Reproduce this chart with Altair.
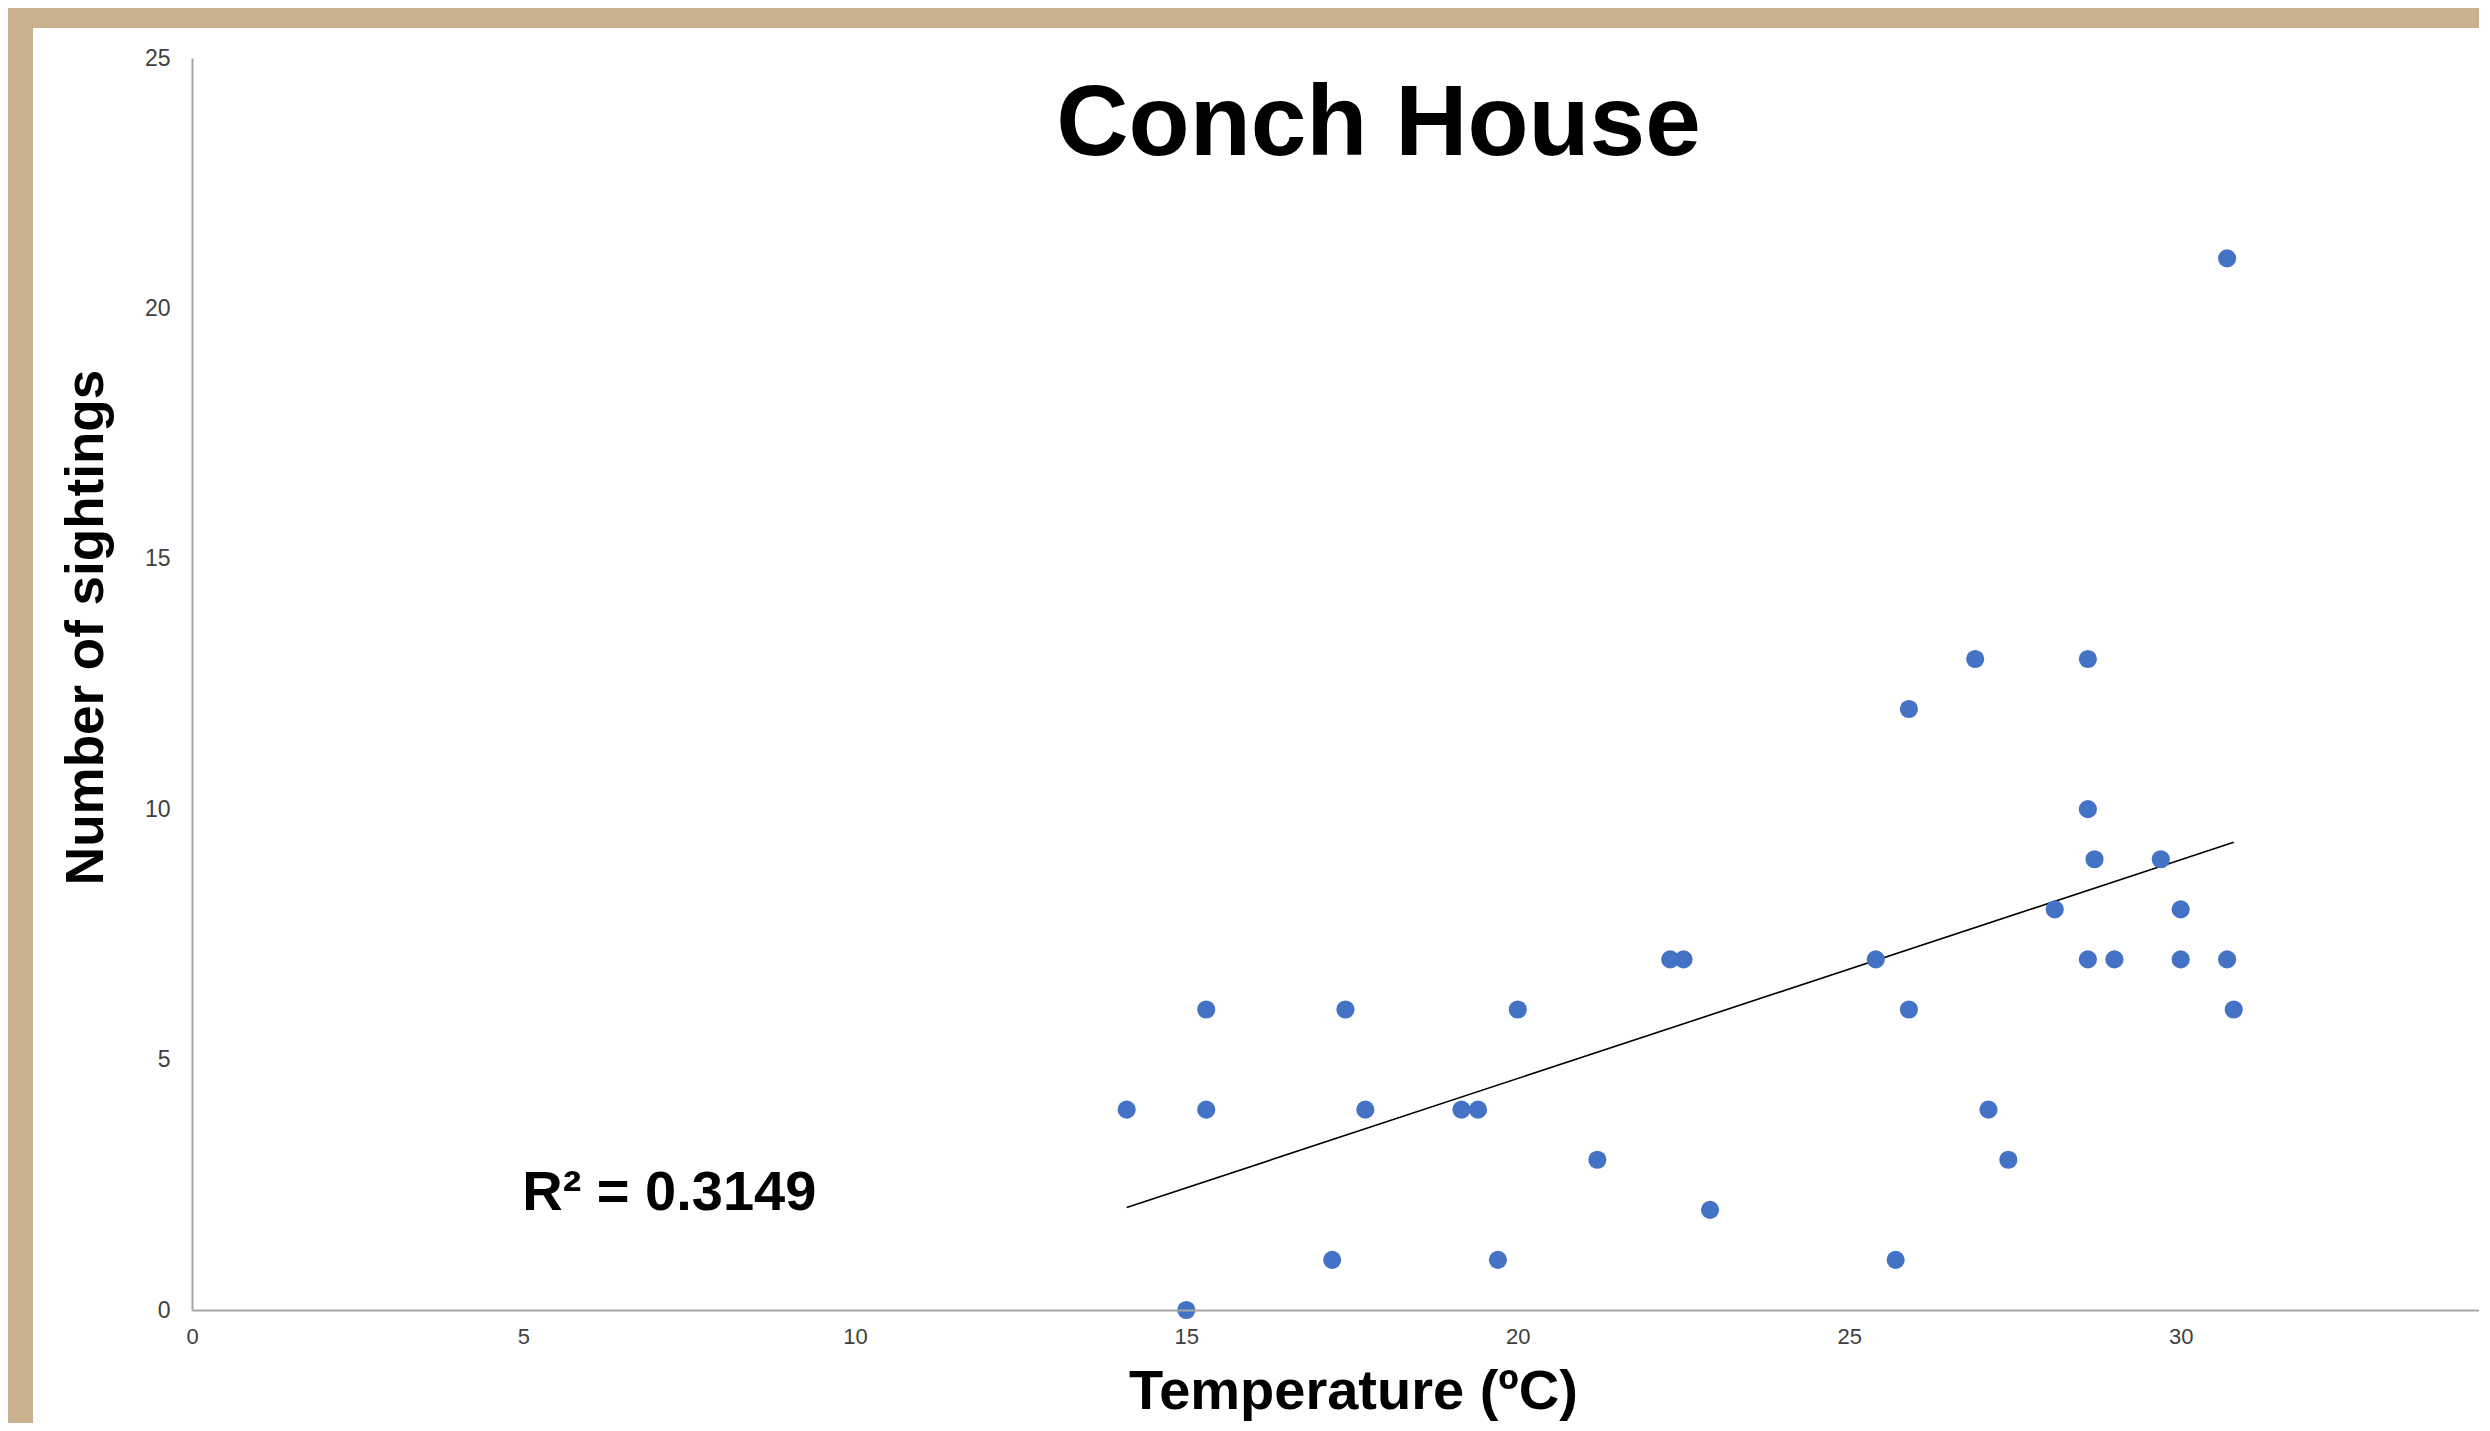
import altair as alt
import pandas as pd

# ---- data ----
temps = [14.1, 15.0, 15.3, 15.3, 17.2, 17.4, 17.7, 19.15, 19.4, 19.7, 20.0, 21.2,
         22.3, 22.5, 22.9, 25.4, 25.7, 25.9, 25.9, 26.9, 27.1, 27.4, 28.1, 28.6,
         28.6, 28.6, 28.7, 29.0, 29.7, 30.0, 30.0, 30.7, 30.7, 30.8]
sightings = [4, 0, 6, 4, 1, 6, 4, 4, 4, 1, 6, 3,
             7, 7, 2, 7, 1, 12, 6, 13, 4, 3, 8, 13,
             10, 7, 9, 7, 9, 8, 7, 21, 7, 6]
x_ticks = [0, 5, 10, 15, 20, 25, 30]
y_ticks = [0, 5, 10, 15, 20, 25]

title_text = ["Conch House"]
title_pos = [17.9, 23.07]
r2_text = ["R² = 0.3149"]
r2_pos = [7.2, 2.0]

df = pd.DataFrame({"temp": temps, "n": sightings})

W, H = 2287, 1252
TAN = "#C9B18F"
BLUE = "#4472C4"

xscale = alt.Scale(domain=[0, 34.5], nice=False, zero=False)
yscale = alt.Scale(domain=[0, 25], nice=False)

xaxis = alt.Axis(values=x_ticks, format="d", title="Temperature (ºC)", grid=False, ticks=False,
                 labelFontSize=22, labelColor="#404040", labelPadding=16, labelFlush=False,
                 labelFont="Liberation Sans", domainColor="#A6A6A6", domainWidth=2,
                 titleFont="Liberation Sans", titleFontSize=56, titleFontWeight="bold",
                 titleColor="#000000", titleX=1161, titleY=98, titleAlign="center",
                 titleBaseline="alphabetic", zindex=1)
yaxis = alt.Axis(values=y_ticks, format="d", title="Number of sightings", grid=False, ticks=False,
                 labelFontSize=23, labelColor="#404040", labelPadding=22, labelFlush=False,
                 labelFont="Liberation Sans", domainColor="#A6A6A6", domainWidth=2,
                 titleFont="Liberation Sans", titleFontSize=53, titleFontWeight="bold",
                 titleColor="#000000", titleX=-90, titleY=569, titleAngle=270,
                 titleAlign="center", titleBaseline="alphabetic", zindex=1)

panel = alt.Chart(pd.DataFrame({"a": [0]})).mark_rect(color="white").encode(
    x=alt.value(-159), x2=alt.value(W + 50), y=alt.value(-30), y2=alt.value(H + 200)
)

base = alt.Chart(df)

points = base.mark_circle(size=330, color=BLUE, opacity=1).encode(
    x=alt.X("temp:Q", scale=xscale, axis=xaxis),
    y=alt.Y("n:Q", scale=yscale, axis=yaxis),
)

trend = base.transform_regression("temp", "n").mark_line(
    color="#000000", strokeWidth=1.6
).encode(
    x=alt.X("temp:Q", scale=xscale),
    y=alt.Y("n:Q", scale=yscale),
)

title_df = pd.DataFrame({"t": title_text, "x": [title_pos[0]], "y": [title_pos[1]]})
title = alt.Chart(title_df).mark_text(
    font="Liberation Sans", fontSize=100, fontWeight="bold", color="#000000",
    align="center", baseline="alphabetic"
).encode(x=alt.X("x:Q", scale=xscale), y=alt.Y("y:Q", scale=yscale), text="t:N")

r2_df = pd.DataFrame({"t": r2_text, "x": [r2_pos[0]], "y": [r2_pos[1]]})
r2 = alt.Chart(r2_df).mark_text(
    font="Liberation Sans", fontSize=56, fontWeight="bold", color="#000000",
    align="center", baseline="alphabetic"
).encode(x=alt.X("x:Q", scale=xscale), y=alt.Y("y:Q", scale=yscale), text="t:N")

chart = alt.layer(panel, trend, points, title, r2).properties(
    width=W, height=H,
    autosize=alt.AutoSizeParams(type="none"),
    padding={"left": 184, "top": 50, "right": 0, "bottom": 113},
    background=TAN,
).configure_view(stroke=None)

chart.save("out.html", embed_options={"renderer": "svg", "actions": False})
